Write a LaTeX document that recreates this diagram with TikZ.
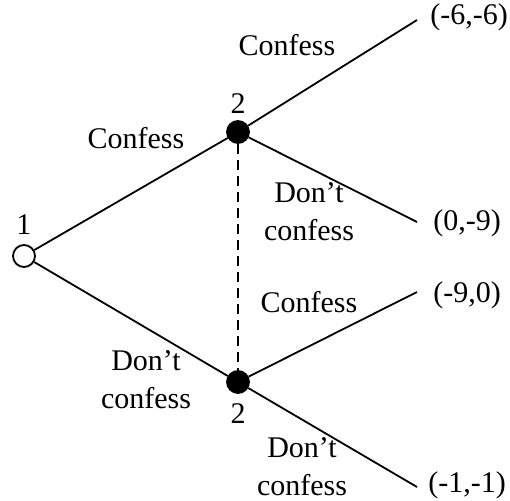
\documentclass[tikz,border=0pt]{standalone}
\usepackage{fontspec}
\setmainfont{Liberation Serif}
\usetikzlibrary{positioning}

\begin{document}
\begin{tikzpicture}[x=0.5pt,y=-0.5pt,font=\fontsize{15}{19}\selectfont,
      dec/.style={circle,draw,line width=0.9pt,minimum size=11pt,inner sep=0pt},
      pl/.style={inner sep=0pt},
      act/.style={anchor=base,inner sep=0pt,align=center},
      pay/.style={anchor=base west,inner sep=0pt},
      br/.style={line width=0.9pt}]
      \useasboundingbox (0,0) rectangle (510,500);
      % decision nodes
      \node[dec,fill=white] (n1) at (24,256) {};
      \node[dec,fill=black] (n2) at (238,132) {};
      \node[dec,fill=black] (n3) at (238,382) {};
      \node[pl,above=4.5pt of n1] (pl1) {1};
      \node[pl,above=3pt of n2] (pl2a) {2};
      \node[pl,below=4.5pt of n3] (pl2b) {2};
      % terminal points
      \coordinate (t1) at (417,20);
      \coordinate (t2) at (417,222);
      \coordinate (t3) at (417,292);
      \coordinate (t4) at (417,487);
      \draw[br] (n1)--(n2); \draw[br] (n1)--(n3);
      \draw[br] (n2)--(t1); \draw[br] (n2)--(t2);
      \draw[br] (n3)--(t3); \draw[br] (n3)--(t4);
      \draw[br,dash pattern=on 5pt off 3pt] (n2)--(n3);
      % actions (base = last line)
      \node[act] (a1) at (136,148) {Confess};
      \node[act] (a2) at (146,408) {Don’t\\confess};
      \node[act] (a3) at (287,55) {Confess};
      \node[act] (a4) at (309,240) {Don’t\\confess};
      \node[act] (a5) at (309,312) {Confess};
      \node[act] (a6) at (302,495) {Don’t\\confess};
      % payoffs
      \node[pay] (p1) at (430,24) {(-6,-6)};
      \node[pay] (p2) at (433,230) {(0,-9)};
      \node[pay] (p3) at (433,302) {(-9,0)};
      \node[pay] (p4) at (428,492) {(-1,-1)};
\end{tikzpicture}
\end{document}
